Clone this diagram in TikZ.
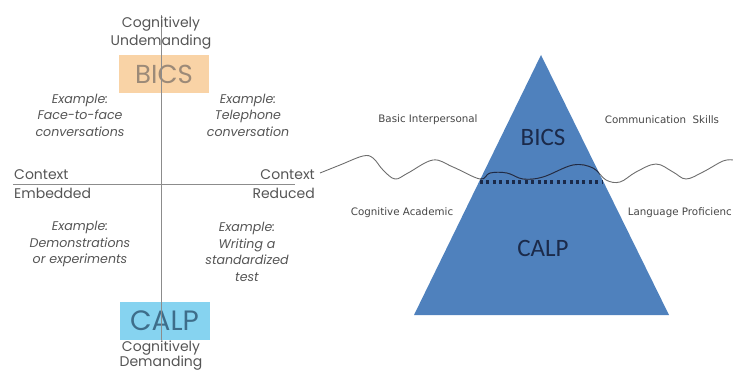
\documentclass[tikz,border=0pt]{standalone}
\usepackage{fontspec}
\setmainfont{Poppins}
\newfontfamily\vfont{DejaVu Sans}
\newfontfamily\cfont{Carlito}
\definecolor{txtgray}{HTML}{555555}
\definecolor{axisgray}{HTML}{8C8C8C}
\definecolor{bicsfill}{HTML}{F9D3A6}
\definecolor{bicstext}{HTML}{9C8A78}
\definecolor{calpfill}{HTML}{86D3F0}
\definecolor{calptext}{HTML}{3E6D8A}
\definecolor{triblue}{HTML}{4F81BD}
\definecolor{navy}{HTML}{1B2A4A}
\definecolor{wavegray}{HTML}{6E6E6E}
\definecolor{lbltext}{HTML}{454545}
\begin{document}
\begin{tikzpicture}[x=1pt,y=-1pt,
  lbl/.style={font=\fontsize{14}{15}\selectfont, text=txtgray, inner sep=0},
  ex/.style={font=\fontsize{12.6}{16.5}\selectfont\itshape, text=txtgray, align=center, inner sep=0},
  axis/.style={draw=axisgray, line width=0.9pt},
  quadbox/.style={minimum width=90, minimum height=38, inner sep=0},
  rlbl/.style={font=\vfont\fontsize{10.3}{11}\selectfont, text=lbltext, inner sep=0},
  trilbl/.style={font=\cfont\fontsize{25}{26}\selectfont, text=navy, inner sep=0}]
\useasboundingbox (0,0) rectangle (733,371);
% ---------- left quadrant diagram ----------
\node[quadbox, fill=bicsfill, text=bicstext, font=\fontsize{26}{27}\selectfont] (bicsbox) at (164,74) {BICS};
\node[quadbox, fill=calpfill, text=calptext, font=\fontsize{28}{29}\selectfont] (calpbox) at (164.5,321) {CALP};
\coordinate (vtop) at (161,15);
\coordinate (vbot) at (161,340);
\coordinate (hleft) at (13,184);
\coordinate (hright) at (295,184);
\draw[axis] (vtop) -- (vbot);
\draw[axis] (hleft) -- (hright);
\node[lbl] (cog1) at (161,24) {Cognitively};
\node[lbl] (undem) at (161,42) {Undemanding};
\node[lbl] (cog2) at (161,348) {Cognitively};
\node[lbl] (dem) at (161,363) {Demanding};
\node[lbl, anchor=west] (ctx1) at (14,175) {Context};
\node[lbl, anchor=west] (emb) at (14,193) {Embedded};
\node[lbl, anchor=east] (ctx2) at (315,175) {Context};
\node[lbl, anchor=east] (red) at (315,193) {Reduced};
\node[ex] (ex1) at (80,115) {Example:\\Face-to-face\\conversations};
\node[ex] (ex2) at (248,115) {Example:\\Telephone\\conversation};
\node[ex] (ex3) at (80,244) {Example:\\Demonstrations\\or experiments};
\node[ex] (ex4) at (247,252) {Example:\\Writing a\\standardized\\test};
% ---------- iceberg triangle ----------
\coordinate (apex) at (541,55);
\coordinate (bl) at (414,315);
\coordinate (br) at (669,315);
\fill[triblue] (apex) -- (br) -- (bl) -- cycle;
\def\wavepath{(320,173) (340,165) (363,156) (373,158) (383,170) (395,179) (408,173) (433,160) (453,167) (480,179) (490,173) (507,173) (523,179) (543,177) (573,165) (593,168) (606,180) (620,182) (636,172) (656,164) (673,172) (686,179) (703,172) (723,161) (733,160)}
\draw[wavegray, line width=0.9pt] plot[smooth, tension=0.6] coordinates {\wavepath};
\begin{scope}
\clip (apex) -- (br) -- (bl) -- cycle;
\draw[navy, line width=0.9pt] plot[smooth, tension=0.6] coordinates {\wavepath};
\end{scope}
\coordinate (dl) at (480,182);
\coordinate (dr) at (603,182);
\draw[navy, line width=3.2pt, dash pattern=on 3pt off 3.4pt] (dl) -- (dr);
\node[trilbl] (tbics) at (543,137) {BICS};
\node[trilbl] (tcalp) at (543,248) {CALP};
\node[rlbl] (basic) at (428,120) {Basic Interpersonal};
\node[rlbl] (comm) at (662,120) {Communication\ \ Skills};
\node[rlbl] (cogac) at (402,213) {Cognitive Academic};
\node[rlbl, anchor=east] (lang) at (732,213) {Language Proficienc};
\end{tikzpicture}
\end{document}
